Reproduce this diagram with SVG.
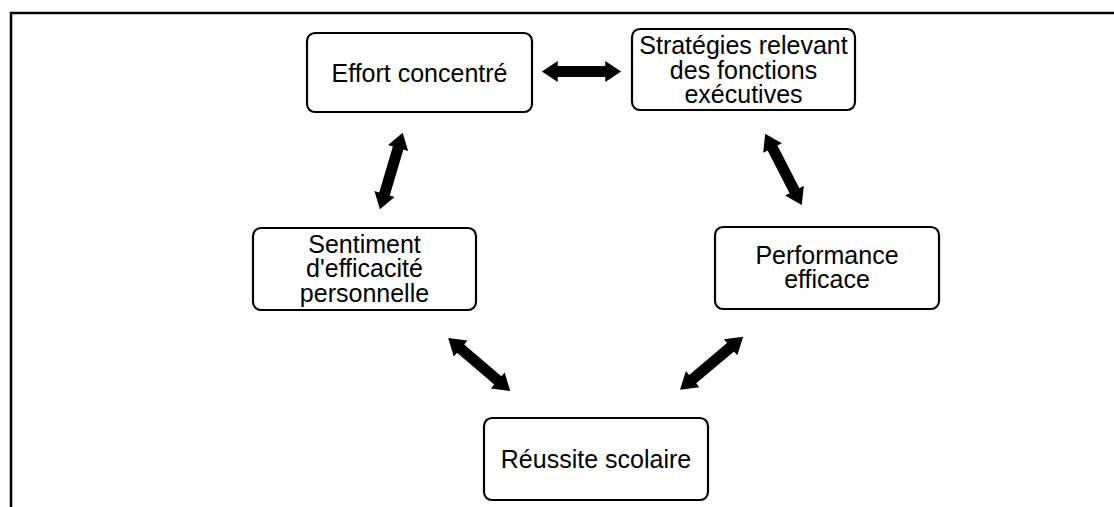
<svg xmlns="http://www.w3.org/2000/svg" width="1114" height="507" viewBox="0 0 1114 507">
  <style>
    .box { fill: #ffffff; stroke: #000000; stroke-width: 2.2; }
    .lbl { font-family: "Liberation Sans", Arial, sans-serif; font-size: 25px; fill: #000000; text-anchor: middle; }
    .frame { fill: none; stroke: #000000; stroke-width: 2.5; }
  </style>
  <defs>
    <path id="dbl" d="M-40,0 L-24,-10.5 L-24,-5.5 L24,-5.5 L24,-10.5 L40,0 L24,10.5 L24,5.5 L-24,5.5 L-24,10.5 Z" fill="#000000"/>
  </defs>
  <rect x="0" y="0" width="1114" height="507" fill="#ffffff"/>
  <path class="frame" d="M11,507 V13 H1114"/>

  <g id="connectors">
    <use href="#dbl" transform="translate(581.5,71.5) scale(0.99,1)"/>
    <use href="#dbl" transform="translate(391.3,171) rotate(106.5)"/>
    <use href="#dbl" transform="translate(783.5,169.3) rotate(62.8)"/>
    <use href="#dbl" transform="translate(479.2,364.5) rotate(40.5) scale(1.02,1)"/>
    <use href="#dbl" transform="translate(711.6,363.2) rotate(140) scale(1.03,1)"/>
  </g>

  <g id="effort">
    <rect class="box" x="307" y="33" width="225" height="79" rx="8"/>
    <text class="lbl" x="419.5" y="81.5">Effort concentré</text>
  </g>
  <g id="strategies">
    <rect class="box" x="632" y="29" width="223" height="81" rx="8"/>
    <text class="lbl" x="743.5" y="54">Stratégies relevant</text>
    <text class="lbl" x="743.5" y="78.5">des fonctions</text>
    <text class="lbl" x="743.5" y="103">exécutives</text>
  </g>
  <g id="sentiment">
    <rect class="box" x="253" y="228" width="223" height="82" rx="8"/>
    <text class="lbl" x="364.5" y="252.5">Sentiment</text>
    <text class="lbl" x="364.5" y="277">d'efficacité</text>
    <text class="lbl" x="364.5" y="301.5">personnelle</text>
  </g>
  <g id="performance">
    <rect class="box" x="715" y="227" width="224" height="82" rx="8"/>
    <text class="lbl" x="827" y="263.5">Performance</text>
    <text class="lbl" x="827" y="288">efficace</text>
  </g>
  <g id="reussite">
    <rect class="box" x="484" y="418" width="224" height="82" rx="8"/>
    <text class="lbl" x="596" y="468">Réussite scolaire</text>
  </g>
</svg>
